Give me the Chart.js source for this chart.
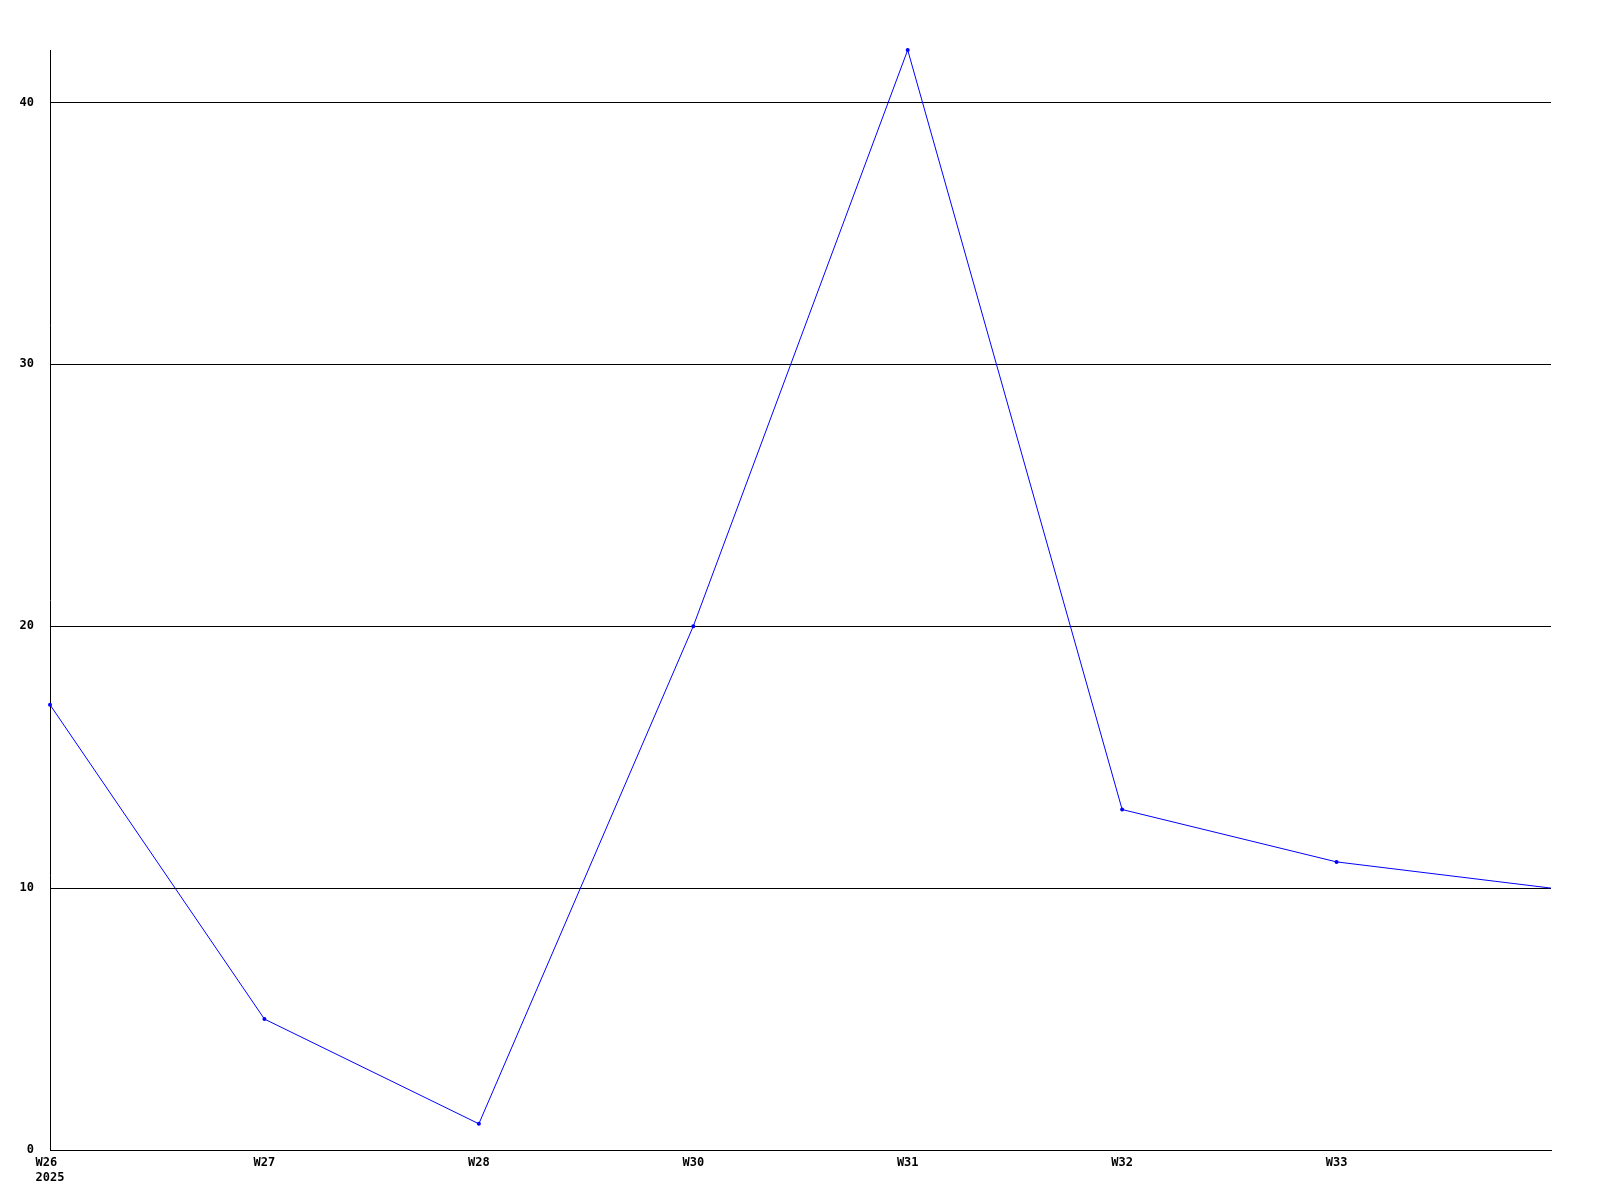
<!DOCTYPE html>
<html>
<head>
<meta charset="utf-8">
<script src="https://cdn.jsdelivr.net/npm/chart.js@4"></script>
<style>
  body { margin: 0; background: #fff; }
  canvas { display: block; }
</style>
</head>
<body>
<canvas id="graph" width="1600" height="1200"></canvas>
<script>
// Weekly values, the last point has no label on the axis
const weeks = ['W26', 'W27', 'W28', 'W30', 'W31', 'W32', 'W33', ''];
const yearLabel = '2025';
const counts = [17, 5, 1, 20, 42, 13, 11, 10];
const yMax = 42;
const yStep = 10;

const tickFont = { family: '"DejaVu Sans Mono", "Liberation Mono", monospace', size: 12, weight: 'bold' };

// First label carries the year on a second line
const labels = weeks.map((w, i) => (i === 0 ? [w + ' ', yearLabel] : w));

const ctx = document.getElementById('graph').getContext('2d');

new Chart(ctx, {
  type: 'line',
  data: {
    labels: labels,
    datasets: [
      {
        data: counts,
        borderColor: '#0000ff',
        backgroundColor: '#0000ff',
        borderWidth: 1,
        pointRadius: counts.map((v, i) => (i === counts.length - 1 ? 0 : 2)),
        pointBorderWidth: 0,
        tension: 0,
        clip: false
      }
    ]
  },
  options: {
    responsive: false,
    animation: false,
    layout: { padding: { top: 50, right: 49, left: 0, bottom: 0 } },
    plugins: {
      legend: { display: false },
      tooltip: { enabled: false }
    },
    scales: {
      x: {
        offset: false,
        grid: { display: false, drawTicks: false },
        border: { display: true, color: '#000', width: 1 },
        ticks: {
          color: '#000',
          font: tickFont,
          padding: 6,
          maxRotation: 0,
          autoSkip: false
        },
        afterFit: (scale) => { scale.height = 50; }
      },
      y: {
        min: 0,
        max: yMax,
        grid: { color: '#000', lineWidth: 1, drawTicks: false },
        border: { display: true, color: '#000', width: 1 },
        ticks: {
          stepSize: yStep,
          color: '#000',
          font: tickFont,
          padding: 16
        },
        afterBuildTicks: (scale) => {
          scale.ticks = scale.ticks.filter((t) => t.value % yStep === 0);
        },
        afterFit: (scale) => { scale.width = 50; }
      }
    }
  }
});
</script>
</body>
</html>
